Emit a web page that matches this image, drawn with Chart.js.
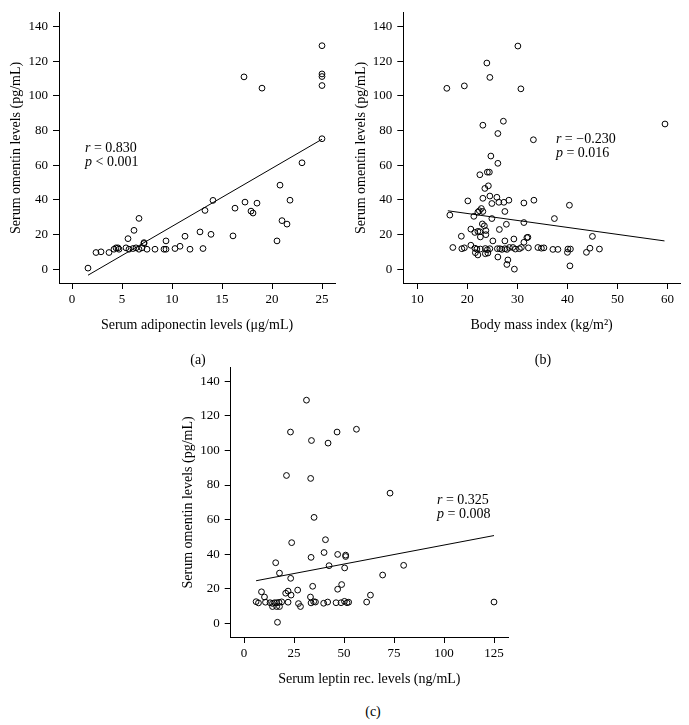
<!DOCTYPE html>
<html>
<head>
<meta charset="utf-8">
<title>Serum omentin scatter plots</title>
<script src="https://cdn.jsdelivr.net/npm/chart.js@4.4.1/dist/chart.umd.min.js"></script>
<style>
    body { margin: 0; background: #fff; }
    #wrap { position: relative; width: 689px; height: 725px; font-family: 'Liberation Serif', 'DejaVu Serif', serif; color: #000; }
    canvas { position: absolute; }
    .panelLabel { position: absolute; font-size: 14px; transform: translate(-50%, -50%); }
</style>
</head>
<body>
<div id="wrap">
    <canvas id="chartA" width="345" height="345" style="left:0px;top:0px"></canvas>
    <canvas id="chartB" width="344" height="345" style="left:345px;top:0px"></canvas>
    <canvas id="chartC" width="345" height="344" style="left:172px;top:355px"></canvas>
    <div class="panelLabel" style="left:198px;top:360px">(a)</div>
    <div class="panelLabel" style="left:543px;top:360px">(b)</div>
    <div class="panelLabel" style="left:373px;top:712px">(c)</div>
</div>
<script>
// (a) adiponectin vs omentin
const adiponectin = [1.6, 2.4, 2.9, 3.7, 4.2, 4.4, 4.6, 4.7, 5.4, 5.6, 5.7, 6.1, 6.2, 6.4, 6.7, 6.7, 7.0, 7.2, 7.2, 7.5,
    8.3, 9.2, 9.4, 9.4, 10.3, 10.8, 11.3, 11.8, 12.8, 13.1, 13.3, 13.9, 14.1, 16.1, 16.3, 17.3, 17.2, 17.9, 18.1, 18.5,
    19.0, 20.5, 20.8, 21.0, 21.5, 21.8, 23.0, 25, 25, 25, 25, 25];
const omentinA = [0.6, 9.6, 10, 9.6, 11.5, 12.3, 12.3, 11.5, 12.3, 17.6, 11.5, 11.9, 22.4, 12.3, 29.3, 11.5, 12.3, 15.3, 14.8, 11.5,
    11.5, 11.5, 11.5, 16.3, 11.9, 13.2, 19, 11.5, 21.5, 11.9, 33.9, 20.1, 39.7, 19.2, 35.2, 38.7, 111, 33.5, 32.4, 38.1,
    104.5, 16.3, 48.5, 28, 26, 39.8, 61.4, 129, 112.7, 111.2, 106, 75.3];
const fitA_x = [1.6, 25];
const fitA_y = [-3.5, 75];

// (b) BMI vs omentin
const bmi = [30.1, 23.9, 24.5, 15.9, 19.4, 30.7, 23.1, 27.2, 26.1, 59.5, 33.2, 24.7, 26.1,
    22.5, 24.0, 24.4, 23.5, 24.2, 20.1, 23.1, 24.5, 24.9, 25.9, 26.3, 27.3, 28.3, 31.3, 33.3,
    16.5, 21.3, 22.1, 22.4, 22.8, 23.1, 24.9, 27.5, 27.8, 31.3, 37.4, 23.0, 23.4, 20.7, 21.5, 22.1,
    22.5, 23.7, 23.7, 22.6, 26.4, 18.8, 25.1, 27.5, 29.3, 31.3, 31.9, 32.1,
    17.1, 18.9, 19.4, 20.7, 21.5, 21.9, 22.6, 23.6, 24.0, 24.5, 26.0, 26.5, 26.9, 27.5, 27.9, 28.4,
    29.1, 29.6, 30.4, 30.8, 32.2, 34.1, 34.8, 35.3, 37.1, 38.1,
    21.6, 22.1, 23.6, 24.1, 26.1, 28.1, 27.9, 29.4,
    40.4, 45.0, 40.1, 40.6, 40.0, 43.8, 44.5, 46.4, 40.5];
const omentinB = [128.8, 119, 110.7, 104.4, 105.8, 104.1, 83.1, 85.4, 78.3, 83.8, 74.7, 65.3, 61.1,
    54.5, 56.0, 56.0, 46.6, 48.1, 39.4, 40.9, 42.2, 37.9, 41.5, 38.6, 38.6, 39.8, 38.2, 39.8,
    31.2, 30.5, 32.9, 33.7, 35.0, 33.3, 29.2, 33.3, 25.9, 26.9, 29.2, 26.1, 25, 23.1, 21.2, 21.8,
    21.6, 22.3, 19.9, 18.6, 22.9, 19, 16.3, 16.3, 17.4, 15.5, 18.2, 18.4,
    12.5, 11.8, 12.3, 13.8, 12.1, 11.6, 11.6, 11.9, 11.2, 11.8, 11.8, 11.8, 11.4, 11.8, 11.4, 12.5,
    12.5, 11.6, 11.8, 12.5, 12.3, 12.5, 12.1, 12.3, 11.4, 11.4,
    9.5, 8.2, 8.9, 9.3, 7, 5.3, 2.7, 0,
    36.9, 18.9, 11.6, 11.6, 9.7, 9.7, 12.1, 11.6, 1.9];
const fitB_x = [16.1, 59.4];
const fitB_y = [33.7, 16.3];

// (c) leptin receptor vs omentin
const leptinRec = [31.2, 23.2, 33.7, 42, 46.5, 56.2, 21.2, 33.3, 73, 35,
    40.7, 23.8, 33.5, 40, 46.8, 50.8, 50.8, 42.5, 50.3, 15.8, 17.7, 23.3, 34.3, 26.8, 22, 20.8, 23.5,
    8.7, 10.2, 46.8, 48.8, 63.2, 6, 7.2, 10.7, 13, 14.2, 15.2, 16.3, 17.5, 18.8, 14.2, 16.3, 17.7,
    22, 27.2, 28.2, 33.2, 33.5, 34.8, 35.7, 39.8, 41.8, 46, 48.5, 50.2, 51.5, 52.3, 61.3, 16.7,
    69.3, 79.8, 125];
const omentinC = [129, 110.6, 105.7, 104.2, 110.6, 112.2, 85.5, 83.8, 75.3, 61.3,
    48.4, 46.7, 38.2, 41, 39.9, 39.5, 38.7, 33.4, 32.1, 35.1, 29.1, 26.1, 21.5, 19.3, 18.7, 17.5, 16.4,
    18.3, 15.3, 19.8, 22.5, 16.4, 12.6, 11.9, 12.3, 12, 11.6, 12, 12, 12.2, 12.5, 9.8, 9.8, 9.8,
    12.3, 11.5, 9.8, 15.3, 11.9, 12.6, 12.4, 11.7, 12.4, 12, 12, 12.8, 12, 12.3, 12.4, 0.7,
    28, 33.6, 12.4];
const fitC_x = [6, 125];
const fitC_y = [24.7, 50.8];

const yTicks = [0, 20, 40, 60, 80, 100, 120, 140];
const xTicksA = [0, 5, 10, 15, 20, 25];
const xTicksB = [10, 20, 30, 40, 50, 60];
const xTicksC = [0, 25, 50, 75, 100, 125];

const FONT = "'Liberation Serif', 'DejaVu Serif', serif";

// r / p text, first part in italic
const statText = {
    id: 'statText',
    afterDatasetsDraw(chart, args, opts) {
        if (!opts.lines) return;
        const ctx = chart.ctx;
        const x0 = chart.scales.x.getPixelForValue(opts.x);
        let y0 = chart.scales.y.getPixelForValue(opts.y);
        ctx.save();
        ctx.fillStyle = '#000';
        ctx.textBaseline = 'middle';
        opts.lines.forEach(parts => {
            ctx.font = 'italic 14px ' + FONT;
            ctx.fillText(parts[0], x0, y0);
            const w = ctx.measureText(parts[0]).width;
            ctx.font = '14px ' + FONT;
            ctx.fillText(parts[1], x0 + w, y0);
            y0 += 14;
        });
        ctx.restore();
    }
};

function toPoints(xs, ys) {
    return xs.map((x, i) => ({ x: x, y: ys[i] }));
}

function makeChart(id, cfg) {
    const axisBase = {
        type: 'linear',
        grid: { display: true, drawOnChartArea: false, drawTicks: true, tickLength: 6, color: '#000', lineWidth: 1 },
        border: { display: true, color: '#000', width: 1 },
    };
    return new Chart(document.getElementById(id), {
        type: 'scatter',
        data: {
            datasets: [{
                data: toPoints(cfg.xs, cfg.ys),
                pointStyle: 'circle',
                pointRadius: 2.9,
                borderColor: '#000',
                borderWidth: 1,
                backgroundColor: 'rgba(0,0,0,0)'
            }, {
                data: toPoints(cfg.fitX, cfg.fitY),
                showLine: true,
                pointRadius: 0,
                borderColor: '#000',
                borderWidth: 1,
                fill: false
            }]
        },
        options: {
            responsive: false,
            animation: false,
            devicePixelRatio: 1,
            layout: { padding: cfg.padding },
            plugins: {
                legend: { display: false },
                tooltip: { enabled: false },
                statText: cfg.stat
            },
            scales: {
                x: Object.assign({}, axisBase, {
                    min: cfg.xMin,
                    max: cfg.xMax,
                    afterBuildTicks: s => { s.ticks = cfg.xTicks.map(v => ({ value: v })); },
                    afterFit: s => { s.height = 62; },
                    ticks: { color: '#000', font: { family: FONT, size: 13 }, padding: 3, maxRotation: 0, autoSkip: false },
                    title: { display: true, text: cfg.xTitle, color: '#000', font: { family: FONT, size: 14 }, padding: { top: 11, bottom: 11 } }
                }),
                y: Object.assign({}, axisBase, {
                    min: cfg.yMin,
                    max: cfg.yMax,
                    afterBuildTicks: s => { s.ticks = yTicks.map(v => ({ value: v })); },
                    afterFit: s => { s.width = cfg.yWidth; },
                    ticks: { color: '#000', font: { family: FONT, size: 13 }, padding: 5, autoSkip: false },
                    title: { display: true, text: 'Serum omentin levels (pg/mL)', color: '#000', font: { family: FONT, size: 14 }, padding: { top: 8, bottom: 8 } }
                })
            }
        },
        plugins: [statText]
    });
}

makeChart('chartA', {
    xs: adiponectin, ys: omentinA, fitX: fitA_x, fitY: fitA_y,
    xTicks: xTicksA, xMin: -1.3, xMax: 26.3, yMin: -8, yMax: 148,
    yWidth: 59, padding: { top: 8, right: 10, bottom: 0, left: 0 },
    xTitle: 'Serum adiponectin levels (\u03bcg/mL)',
    stat: { x: 1.3, y: 69.5, lines: [['r', ' = 0.830'], ['p', ' < 0.001']] }
});

makeChart('chartB', {
    xs: bmi, ys: omentinB, fitX: fitB_x, fitY: fitB_y,
    xTicks: xTicksB, xMin: 7.2, xMax: 62.5, yMin: -8, yMax: 148,
    yWidth: 58.3, padding: { top: 8, right: 9, bottom: 0, left: 0 },
    xTitle: 'Body mass index (kg/m\u00b2)',
    stat: { x: 37.7, y: 74.7, lines: [['r', ' = \u22120.230'], ['p', ' = 0.016']] }
});

makeChart('chartC', {
    xs: leptinRec, ys: omentinC, fitX: fitC_x, fitY: fitC_y,
    xTicks: xTicksC, xMin: -6.7, xMax: 132, yMin: -7.8, yMax: 147.7,
    yWidth: 58.7, padding: { top: 7.7, right: 9, bottom: 0, left: 0 },
    xTitle: 'Serum leptin rec. levels (ng/mL)',
    stat: { x: 96.5, y: 70.9, lines: [['r', ' = 0.325'], ['p', ' = 0.008']] }
});
</script>
</body>
</html>
